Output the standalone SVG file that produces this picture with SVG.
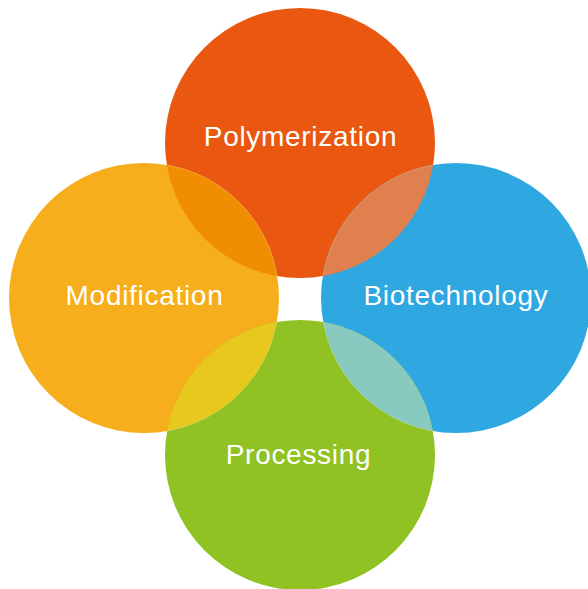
<svg xmlns="http://www.w3.org/2000/svg" width="588" height="589" viewBox="0 0 588 589">
<style>
.lbl{font-family:"Liberation Sans",Arial,sans-serif;font-size:28px;fill:#fff;text-anchor:middle;letter-spacing:0.7px}
.seam{fill:none;stroke:#fff;stroke-opacity:0.35;stroke-width:0.6}
</style>
<defs>
<clipPath id="cTop"><circle cx="300" cy="143" r="135"/></clipPath>
<clipPath id="cBot"><circle cx="300" cy="455" r="135"/></clipPath>
</defs>
<rect width="588" height="589" fill="#fff"/>
<g id="node-polymerization">
<circle cx="300" cy="143" r="135" fill="#E95711"/>
</g>
<g id="node-modification">
<circle cx="144" cy="298" r="135" fill="#F6AE1C"/>
</g>
<g id="node-biotechnology">
<circle cx="456" cy="298" r="135" fill="#2FA7E0"/>
</g>
<g id="node-processing">
<circle cx="300" cy="455" r="135" fill="#90C223"/>
</g>
<g id="overlaps">
<circle cx="144" cy="298" r="135" fill="#F08D00" clip-path="url(#cTop)"/>
<circle cx="456" cy="298" r="135" fill="#E0804F" clip-path="url(#cTop)"/>
<circle cx="144" cy="298" r="135" fill="#E9C81E" clip-path="url(#cBot)"/>
<circle cx="456" cy="298" r="135" fill="#88CAC0" clip-path="url(#cBot)"/>
<circle class="seam" cx="144" cy="298" r="135" clip-path="url(#cTop)"/>
<circle class="seam" cx="456" cy="298" r="135" clip-path="url(#cTop)"/>
<circle class="seam" cx="144" cy="298" r="135" clip-path="url(#cBot)"/>
<circle class="seam" cx="456" cy="298" r="135" clip-path="url(#cBot)"/>
</g>
<g id="labels">
<text class="lbl" x="300.5" y="146">Polymerization</text>
<text class="lbl" x="144.5" y="305">Modification</text>
<text class="lbl" x="456" y="305">Biotechnology</text>
<text class="lbl" x="298.5" y="464">Processing</text>
</g>
</svg>
